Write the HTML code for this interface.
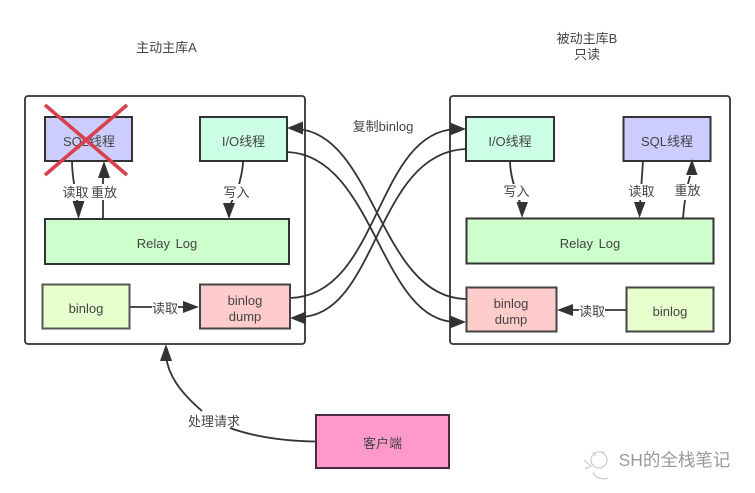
<!DOCTYPE html>
<html>
<head>
<meta charset="utf-8">
<style>
html,body{margin:0;padding:0;background:#fff;width:755px;height:493px;overflow:hidden}
svg{display:block;filter:blur(0.35px)}
text{font-family:"Liberation Sans","Noto Sans CJK SC",sans-serif;font-size:13px;fill:#444;text-anchor:middle}
.b{stroke:#333;stroke-width:2}
.l{fill:none;stroke:#333;stroke-width:1.8}
.a{fill:#333}
.bg{fill:#fff}
</style>
</head>
<body>
<svg width="755" height="493" viewBox="0 0 755 493">
<rect width="755" height="493" fill="#fff"/>

<text x="166.500" y="52">主动主库A</text>
<text x="587" y="43">被动主库B</text>
<text x="587" y="59">只读</text>

<rect x="25" y="96" width="280" height="248" rx="3" fill="#fff" stroke="#333" stroke-width="1.8"/>
<rect x="450" y="96" width="280" height="248" rx="3" fill="#fff" stroke="#333" stroke-width="1.8"/>

<!-- crossing connectors -->
<path class="l" d="M298 129 C375 135 380 298 466 299"/>
<path class="l" d="M287 152 C375 155 380 322 456 322"/>
<path class="l" d="M290 298 C380 296 375 132 456 129"/>
<path class="l" d="M300 317 C378 316 375 152 466 149"/>
<polygon class="a" points="287,128 303,121.500 303,134.500"/>
<polygon class="a" points="466,129 450,122.500 450,135.500"/>
<polygon class="a" points="290,318 306,311.500 306,324.500"/>
<polygon class="a" points="466,322 450,315.500 450,328.500"/>

<text x="383" y="131">复制binlog</text>

<!-- left boxes -->
<rect class="b" x="45" y="117" width="87" height="44" fill="#ccccff"/>
<text x="89" y="146">SQL线程</text>
<rect class="b" x="200" y="117" width="87" height="44" fill="#ccffe6"/>
<text x="243.500" y="146">I/O线程</text>
<rect class="b" x="45" y="219" width="244" height="45" fill="#ccffcc"/>
<text x="167" y="248" style="word-spacing:2px">Relay Log</text>
<rect x="42.500" y="284.500" width="87" height="44" fill="#e6ffcc" stroke="#555" stroke-width="2"/>
<text x="86" y="313">binlog</text>
<rect x="200" y="284.500" width="90" height="44" fill="#ffcccc" stroke="#444" stroke-width="2"/>
<text x="245" y="305">binlog</text>
<text x="245" y="321">dump</text>

<!-- right boxes -->
<rect class="b" x="466" y="117" width="88" height="44" fill="#ccffe6"/>
<text x="510" y="146">I/O线程</text>
<rect class="b" x="623.500" y="117" width="87" height="44" fill="#ccccff"/>
<text x="667" y="146">SQL线程</text>
<rect class="b" x="466.500" y="218.500" width="247" height="45" fill="#ccffcc"/>
<text x="590" y="248" style="word-spacing:2px">Relay Log</text>
<rect x="466.500" y="287.500" width="90" height="44" fill="#ffcccc" stroke="#444" stroke-width="2"/>
<text x="511" y="308">binlog</text>
<text x="511" y="324">dump</text>
<rect x="626.500" y="287.500" width="87" height="44" fill="#e6ffcc" stroke="#444" stroke-width="2"/>
<text x="670" y="316">binlog</text>

<!-- left inner connectors -->
<path class="l" d="M72 161 C72 175 75 190 78 205"/>
<polygon class="a" points="78.500,219 72.500,201 84.500,201"/>
<path class="l" d="M103 219 L103 175"/>
<polygon class="a" points="104,161 98,178 110,178"/>
<path class="l" d="M243 161 C243 172 240 178 238 190 L230 205"/>
<polygon class="a" points="229,219 223,203 235,203"/>
<path d="M130 307 L188 307" class="l"/>
<polygon class="a" points="199,307 183,301 183,313"/>

<rect class="bg" x="62" y="184" width="27" height="16"/>
<text x="75.500" y="197">读取</text>
<rect class="bg" x="90" y="184" width="28" height="16"/>
<text x="104" y="197">重放</text>
<rect class="bg" x="223" y="184" width="28" height="16"/>
<text x="236.500" y="197">写入</text>
<rect class="bg" x="152" y="299" width="26" height="16"/>
<text x="165" y="313">读取</text>

<!-- right inner connectors -->
<path class="l" d="M510 161 C510 175 515 190 521 205"/>
<polygon class="a" points="522,218 516.500,202 528,202"/>
<path class="l" d="M643 161 L640 205"/>
<polygon class="a" points="639.500,218 634,202 645.500,202"/>
<path class="l" d="M683 218 C684 205 686 190 690 176"/>
<polygon class="a" points="692,159 686,175 697.500,175"/>
<path class="l" d="M626 310 L566 310"/>
<polygon class="a" points="557,310 573,304 573,316"/>

<rect class="bg" x="502" y="184" width="28" height="16"/>
<text x="516.500" y="196">写入</text>
<rect class="bg" x="628" y="184" width="27" height="16"/>
<text x="641.500" y="196">读取</text>
<rect class="bg" x="674" y="184" width="28" height="16"/>
<text x="687.500" y="195">重放</text>
<rect class="bg" x="579" y="303" width="26" height="16"/>
<text x="592" y="316">读取</text>

<!-- red cross -->
<path d="M45 105 L127 175 M127 105 L45 175" stroke="#d9404e" stroke-width="3.600" fill="none"/>

<!-- client -->
<rect x="316" y="415" width="133" height="53" fill="#ff99cc" stroke="#4a2a42" stroke-width="2"/>
<text x="382.500" y="448">客户端</text>
<path class="l" d="M316 441.500 C285 441 255 437 230 428"/>
<path class="l" d="M202 411 C180 392 168 375 166 356"/>
<polygon class="a" points="166,344 160,361 172,361"/>
<text x="214" y="426">处理请求</text>

<!-- watermark -->
<g fill="none" stroke="#c4c4c4" stroke-width="1">
<circle cx="599" cy="460" r="8"/>
<path d="M584 460 L591 466 L585 469 M593 472 C596 479 604 480 608 478 M593 452 L596 456 M602 451 L605 455"/>
</g>
<text x="674.500" y="466" style="font-size:17.500px;fill:#999">SH的全栈笔记</text>
</svg>
</body>
</html>
